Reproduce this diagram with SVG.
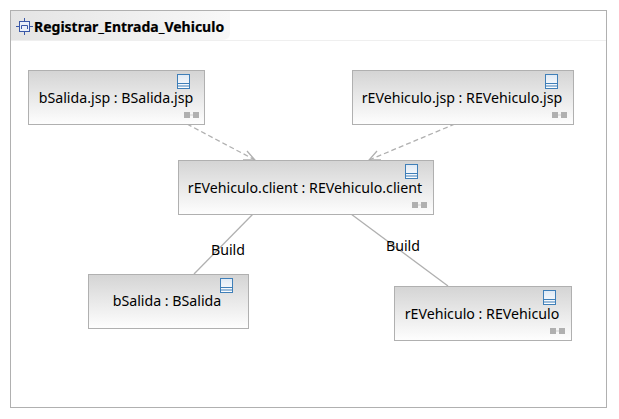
<svg xmlns="http://www.w3.org/2000/svg" xmlns:xlink="http://www.w3.org/1999/xlink" width="619" height="419" viewBox="0 0 619 419">
<style>
.box{fill:url(#g);stroke:#b0b0b0;stroke-width:1}
.t{font-family:"Noto Sans","Open Sans",sans-serif;font-size:14.2px;fill:#000;text-anchor:middle}
.title{font-family:"Noto Sans","Open Sans",sans-serif;font-size:14px;font-weight:700;fill:#000;stroke:#000;stroke-width:0.2}
.c{fill:none;stroke:#b0b0b0;stroke-width:1.3}
.d{stroke-dasharray:5 3}
.ic{fill:none;stroke:#3f7fb8;stroke-width:1}
.h{fill:#b0b0b0}
</style>
<defs>
<linearGradient id="g" x1="0" y1="0" x2="0" y2="1"><stop offset="0" stop-color="#d4d4d4"/><stop offset="1" stop-color="#fefefe"/></linearGradient>
<linearGradient id="tab" x1="0" y1="0" x2="1" y2="0"><stop offset="0" stop-color="#e4e4e4"/><stop offset="1" stop-color="#f8f8f8"/></linearGradient>
<linearGradient id="icf" x1="0" y1="0" x2="0" y2="1"><stop offset="0" stop-color="#dfe9f4"/><stop offset="1" stop-color="#ffffff"/></linearGradient>
<g id="icon"><rect x="0.500" y="0.500" width="12" height="14" fill="url(#icf)"/><rect class="ic" x="0.500" y="0.500" width="12" height="14"/><path class="ic" d="M0.500 9.500H12.500M0.500 12H12.500"/></g>
<g id="grip"><rect x="6" y="2.500" width="3" height="1" fill="#d0d0d0"/><rect class="h" x="0" y="0" width="6" height="6"/><rect class="h" x="9" y="0" width="6" height="6"/></g>
</defs>
<rect width="619" height="419" fill="#fff"/>
<g id="frame">
<rect x="10.500" y="10.500" width="596" height="397" fill="#fff" stroke="#b0b0b0"/>
<path d="M11 11H230V33Q230 40 222 40H11Z" fill="url(#tab)"/>
<path d="M11 40.500H606" stroke="#efefef" fill="none"/>
<g fill="#eaf0fa" stroke="#3a58a8" stroke-width="1">
<rect x="19.500" y="21.500" width="10" height="10"/>
<path d="M24.500 18V21.500M24.500 31.500V35M16 26.500H19.500M29.500 26.500H33" fill="none"/>
<path d="M21.500 29V25.500H27.500V29" fill="none"/>
</g>
<text class="title" x="34" y="32">Registrar_Entrada_Vehiculo</text>
</g>
<g id="connectors">
<path class="c d" d="M187 124L255 160"/>
<path class="c" d="M247 151L255 160L243 160"/>
<path class="c d" d="M455 124L369 160"/>
<path class="c" d="M377 151L369 160L381 160"/>
<path class="c" d="M253 214L194 274"/>
<path class="c" d="M351 214L448 286"/>
<text class="t" x="228" y="255">Build</text>
<text class="t" x="403" y="251">Build</text>
</g>
<g id="bSalidaJsp">
<rect class="box" x="28.500" y="70.500" width="176" height="54"/>
<use xlink:href="#icon" href="#icon" x="177" y="74"/>
<use xlink:href="#grip" href="#grip" x="184" y="112"/>
<text class="t" x="116" y="103">bSalida.jsp : BSalida.jsp</text>
</g>
<g id="rEVehiculoJsp">
<rect class="box" x="352.500" y="70.500" width="221" height="54"/>
<use xlink:href="#icon" href="#icon" x="545" y="74"/>
<use xlink:href="#grip" href="#grip" x="552" y="112"/>
<text class="t" x="462" y="103">rEVehiculo.jsp : REVehiculo.jsp</text>
</g>
<g id="rEVehiculoClient">
<rect class="box" x="178.500" y="160.500" width="255" height="54"/>
<use xlink:href="#icon" href="#icon" x="405" y="164"/>
<use xlink:href="#grip" href="#grip" x="412" y="202"/>
<text class="t" x="305" y="193">rEVehiculo.client : REVehiculo.client</text>
</g>
<g id="bSalida">
<rect class="box" x="88.500" y="274.500" width="160" height="54"/>
<use xlink:href="#icon" href="#icon" x="220" y="278"/>
<text class="t" x="167" y="306">bSalida : BSalida</text>
</g>
<g id="rEVehiculo">
<rect class="box" x="394.500" y="286.500" width="177" height="54"/>
<use xlink:href="#icon" href="#icon" x="543" y="290"/>
<use xlink:href="#grip" href="#grip" x="550" y="328"/>
<text class="t" x="482" y="319">rEVehiculo : REVehiculo</text>
</g>
</svg>
